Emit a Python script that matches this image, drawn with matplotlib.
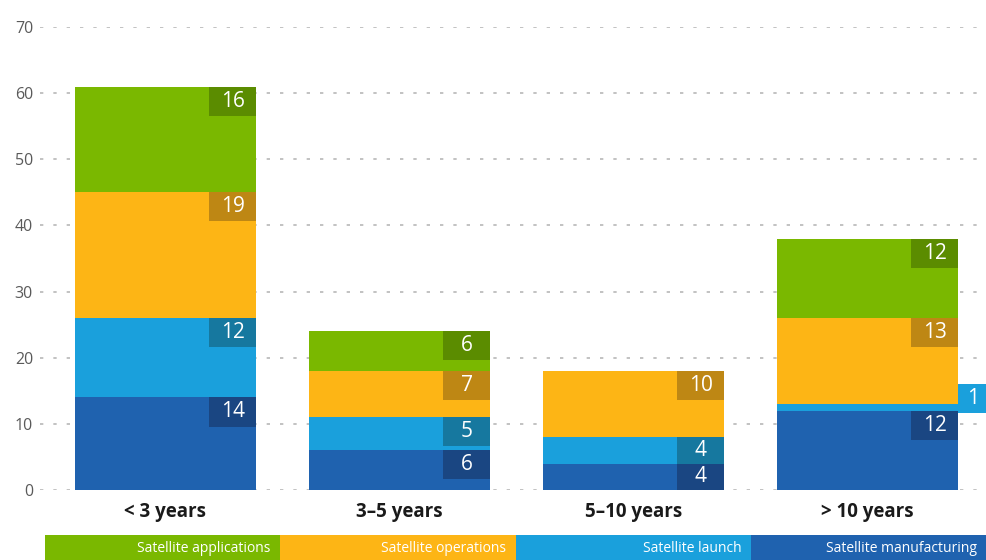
import matplotlib.pyplot as plt
from matplotlib.patches import Rectangle

plt.rcParams['font.family'] = ['Open Sans', 'DejaVu Sans']

categorias = ['< 3 years', '3–5 years', '5–10 years', '> 10 years']
series = ['Satellite manufacturing', 'Satellite launch', 'Satellite operations', 'Satellite applications']
manufacturing = [14, 6, 4, 12]
launch = [12, 5, 4, 1]
operations = [19, 7, 10, 13]
applications = [16, 6, 0, 12]
valores = [manufacturing, launch, operations, applications]

colores = ['#1F62AF', '#1AA0DC', '#FDB515', '#7AB800']
colores_caja = ['#1A4682', '#16789F', '#BE8714', '#5B8C00']

fig = plt.figure(figsize=(9.87, 5.6), dpi=100)
ax = fig.add_axes([40 / 987, 70 / 560, 947 / 987, 463 / 560])

ancho = 0.774
caja_w = 0.2
caja_h = 4.4
x = range(len(categorias))
base = [0] * len(categorias)
for k, serie in enumerate(series):
    ax.bar(x, valores[k], ancho, bottom=base, color=colores[k], edgecolor='none', zorder=2)
    for i in x:
        v = valores[k][i]
        if v == 0:
            continue
        top = base[i] + v
        derecha = i + ancho / 2
        if v < caja_h * 0.6:
            # segmento muy fino: la caja va fuera de la barra
            w, h = 0.13, caja_h
            rx, ry = derecha, base[i] - 0.3
            c = colores[k]
        else:
            w, h = caja_w, min(caja_h, v)
            rx, ry = derecha - caja_w, top - h
            c = colores_caja[k]
        ax.add_patch(Rectangle((rx, ry), w, h, color=c, zorder=3, clip_on=False, lw=0))
        ax.text(rx + w / 2, ry + h / 2, str(v), ha='center', va='center',
                color='white', fontsize=15, fontweight='medium', zorder=4)
    base = [b + v for b, v in zip(base, valores[k])]

ax.set_xlim(-0.536, 3.51)
ax.set_ylim(0, 70)
ax.set_yticks(range(0, 71, 10))
ax.yaxis.grid(True, linestyle=(0, (2, 6)), color='#b8b8b8', linewidth=1.2, zorder=0)
for s in ax.spines.values():
    s.set_visible(False)
ax.tick_params(axis='y', length=0, labelsize=11.5, labelcolor='#5a5a5a', pad=5)
ax.tick_params(axis='x', length=0, labelsize=13.5, pad=9)
ax.set_xticks(list(x))
ax.set_xticklabels(categorias, fontweight='bold', color='#1a1a1a')
ax.set_yticklabels([str(t) for t in range(0, 71, 10)])

# leyenda como franja de colores abajo
leyenda = ['Satellite applications', 'Satellite operations', 'Satellite launch', 'Satellite manufacturing']
colores_leyenda = ['#7AB800', '#FDB515', '#1AA0DC', '#1F62AF']
x0 = 45 / 987
wl = (987 - 45) / 4 / 987
for j, nombre in enumerate(leyenda):
    fig.patches.append(Rectangle((x0 + j * wl, 0), wl, 25 / 560, transform=fig.transFigure,
                                 color=colores_leyenda[j], lw=0))
    fig.text(x0 + (j + 1) * wl - 10 / 987, 12 / 560, nombre, ha='right', va='center',
             color='white', fontsize=10)

fig.savefig('out.png', dpi=100)
